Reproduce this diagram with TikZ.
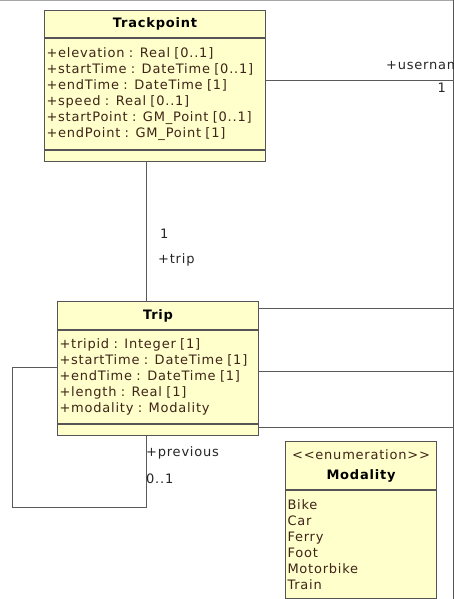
\documentclass[tikz,border=0pt]{standalone}
\usepackage{fontspec}
\newfontfamily\umlfont{DejaVu Sans}[LetterSpace=6]
\usetikzlibrary{positioning}

\definecolor{umlfill}{HTML}{FFFFCC}
\definecolor{umlline}{HTML}{555555}
\definecolor{umltext}{HTML}{3F2418}
\definecolor{assocline}{HTML}{5A5A5A}

\tikzset{
  compart/.style={draw=umlline, fill=umlfill, line width=1pt, anchor=north west,
    inner xsep=2pt, inner ysep=0pt, font=\umlfont\fontsize{13}{16}\selectfont},
  head/.style={compart, align=center, text=black,
    font=\umlfont\fontsize{13}{16}\bfseries\selectfont},
  attrs/.style={compart, align=left, text=umltext},
  assoc/.style={draw=assocline, line width=1pt},
  role/.style={font=\umlfont\fontsize{13}{16}\selectfont, text=black!85, inner sep=0pt}
}

\begin{document}
\begin{tikzpicture}[x=1pt,y=-1pt]
        \useasboundingbox (0,0) rectangle (454,599);

        % frame edge and the class cut off at the right
        \draw[black!35, line width=1pt] (0,1) -- (454,1);
        \node[draw=umlline, fill=umlfill, line width=1pt, anchor=north west,
              minimum width=120pt, minimum height=640pt, inner sep=0pt] (user) at (453,-20) {};

        % Trackpoint
        \node[head, minimum width=221pt, text width=217pt, minimum height=27pt] (tp-head) at (44,10) {Trackpoint};
        \node[attrs, minimum width=221pt, text width=217pt, minimum height=111pt] (tp-attr) at (tp-head.south west)
            {+elevation : Real [0..1]\\+startTime : DateTime [0..1]\\+endTime : DateTime [1]\\+speed : Real [0..1]\\+startPoint : GM\_Point [0..1]\\+endPoint : GM\_Point [1]};
        \node[compart, minimum width=221pt, minimum height=11pt] (tp-ops) at (tp-attr.south west) {};

        % Trip
        \node[head, minimum width=201pt, text width=197pt, minimum height=28pt] (trip-head) at (57,301) {Trip};
        \node[attrs, minimum width=201pt, text width=197pt, minimum height=93pt] (trip-attr) at (trip-head.south west)
            {+tripid : Integer [1]\\+startTime : DateTime [1]\\+endTime : DateTime [1]\\+length : Real [1]\\+modality : Modality};
        \node[compart, minimum width=201pt, minimum height=11pt] (trip-ops) at (trip-attr.south west) {};

        % Modality
        \node[compart, align=center, text=umltext, minimum width=151pt, text width=147pt, minimum height=48pt] (mod-head) at (285,441)
            {<<enumeration>>\\[4pt]{\bfseries\color{black}Modality}};
        \node[attrs, minimum width=151pt, text width=147pt, minimum height=108pt] (mod-lits) at (mod-head.south west)
            {Bike\\Car\\Ferry\\Foot\\Motorbike\\Train};

        % associations
        \draw[assoc] (tp-attr.east |- 0,81) -- (user.west |- 0,81);
        \node[role, anchor=base west] (tp-user-role) at (386,70) {+username};
        \node[role, anchor=base east] (tp-user-mult) at (446,93) {1};

        \draw[assoc] (tp-ops.south -| 146,0) -- (trip-head.north -| 146,0);
        \node[role, anchor=base west] (trip-mult) at (160,238) {1};
        \node[role, anchor=base west] (trip-role) at (158,263) {+trip};

        \draw[assoc] (trip-head.east |- 0,308) -- (user.west |- 0,308);
        \draw[assoc] (trip-attr.east |- 0,371) -- (user.west |- 0,371);
        \draw[assoc] (trip-ops.east |- 0,427) -- (user.west |- 0,427);

        \coordinate (loop-corner) at (12,507);
        \draw[assoc] (trip-attr.west |- 0,367) -| (loop-corner) -| (trip-ops.south -| 146,0);
        \node[role, anchor=base west] (prev-role) at (146,456) {+previous};
        \node[role, anchor=base west] (prev-mult) at (146,483) {0..1};

    \end{tikzpicture}
\end{document}
